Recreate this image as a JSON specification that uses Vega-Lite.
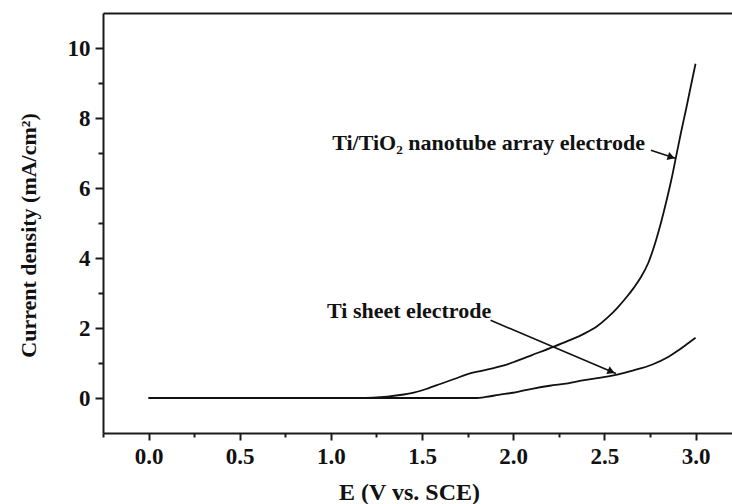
{
  "$schema": "https://vega.github.io/schema/vega-lite/v6.json",
  "width": 629,
  "height": 420,
  "autosize": {"type": "none"},
  "padding": {"left": 103, "top": 13, "right": 0, "bottom": 71},
  "background": "white",
  "config": {
    "view": {"stroke": null},
    "font": "Liberation Serif",
    "axis": {"grid": false, "domainColor": "#1a1a1a", "tickColor": "#1a1a1a", "domainWidth": 2, "tickWidth": 2, "labelFont": "Liberation Serif", "labelFontWeight": "bold", "labelFontSize": 23, "labelColor": "#111", "titleFont": "Liberation Serif", "titleFontWeight": "bold", "titleFontSize": 22, "titleColor": "#111"}
  },
  "datasets": {
    "curves": [
      {"E": 0.0, "J": 0, "s": "Ti/TiO2"},
      {"E": 0.5, "J": 0, "s": "Ti/TiO2"},
      {"E": 1.0, "J": 0, "s": "Ti/TiO2"},
      {"E": 1.15, "J": 0, "s": "Ti/TiO2"},
      {"E": 1.23, "J": 0.01, "s": "Ti/TiO2"},
      {"E": 1.31, "J": 0.04, "s": "Ti/TiO2"},
      {"E": 1.4, "J": 0.1, "s": "Ti/TiO2"},
      {"E": 1.46, "J": 0.16, "s": "Ti/TiO2"},
      {"E": 1.53, "J": 0.27, "s": "Ti/TiO2"},
      {"E": 1.6, "J": 0.4, "s": "Ti/TiO2"},
      {"E": 1.68, "J": 0.55, "s": "Ti/TiO2"},
      {"E": 1.75, "J": 0.68, "s": "Ti/TiO2"},
      {"E": 1.82, "J": 0.77, "s": "Ti/TiO2"},
      {"E": 1.88, "J": 0.84, "s": "Ti/TiO2"},
      {"E": 1.95, "J": 0.93, "s": "Ti/TiO2"},
      {"E": 2.02, "J": 1.06, "s": "Ti/TiO2"},
      {"E": 2.1, "J": 1.22, "s": "Ti/TiO2"},
      {"E": 2.22, "J": 1.46, "s": "Ti/TiO2"},
      {"E": 2.3, "J": 1.63, "s": "Ti/TiO2"},
      {"E": 2.39, "J": 1.84, "s": "Ti/TiO2"},
      {"E": 2.46, "J": 2.05, "s": "Ti/TiO2"},
      {"E": 2.52, "J": 2.31, "s": "Ti/TiO2"},
      {"E": 2.57, "J": 2.57, "s": "Ti/TiO2"},
      {"E": 2.62, "J": 2.87, "s": "Ti/TiO2"},
      {"E": 2.66, "J": 3.14, "s": "Ti/TiO2"},
      {"E": 2.7, "J": 3.45, "s": "Ti/TiO2"},
      {"E": 2.74, "J": 3.85, "s": "Ti/TiO2"},
      {"E": 2.78, "J": 4.45, "s": "Ti/TiO2"},
      {"E": 2.81, "J": 5.0, "s": "Ti/TiO2"},
      {"E": 2.84, "J": 5.62, "s": "Ti/TiO2"},
      {"E": 2.87, "J": 6.3, "s": "Ti/TiO2"},
      {"E": 2.893, "J": 6.89, "s": "Ti/TiO2"},
      {"E": 2.92, "J": 7.58, "s": "Ti/TiO2"},
      {"E": 2.95, "J": 8.3, "s": "Ti/TiO2"},
      {"E": 2.975, "J": 8.93, "s": "Ti/TiO2"},
      {"E": 3.0, "J": 9.55, "s": "Ti/TiO2"},
      {"E": 0.0, "J": 0, "s": "Ti"},
      {"E": 0.5, "J": 0, "s": "Ti"},
      {"E": 1.0, "J": 0, "s": "Ti"},
      {"E": 1.5, "J": 0, "s": "Ti"},
      {"E": 1.8, "J": 0, "s": "Ti"},
      {"E": 1.85, "J": 0.03, "s": "Ti"},
      {"E": 1.92, "J": 0.09, "s": "Ti"},
      {"E": 2.0, "J": 0.15, "s": "Ti"},
      {"E": 2.11, "J": 0.27, "s": "Ti"},
      {"E": 2.2, "J": 0.35, "s": "Ti"},
      {"E": 2.3, "J": 0.42, "s": "Ti"},
      {"E": 2.39, "J": 0.51, "s": "Ti"},
      {"E": 2.48, "J": 0.58, "s": "Ti"},
      {"E": 2.57, "J": 0.67, "s": "Ti"},
      {"E": 2.66, "J": 0.79, "s": "Ti"},
      {"E": 2.76, "J": 0.95, "s": "Ti"},
      {"E": 2.85, "J": 1.17, "s": "Ti"},
      {"E": 2.9, "J": 1.34, "s": "Ti"},
      {"E": 2.95, "J": 1.53, "s": "Ti"},
      {"E": 3.0, "J": 1.72, "s": "Ti"}
    ],
    "arrows": [
      {"E": 2.755, "J": 7.077, "E2": 2.893, "J2": 6.84, "hE": 2.867, "hJ": 6.885, "ang": 18, "label": "Ti/TiO₂ nanotube array electrode", "tE": 1.007, "tJ": 7.077},
      {"E": 1.876, "J": 2.22, "E2": 2.563, "J2": 0.697, "hE": 2.538, "hJ": 0.754, "ang": 23, "label": "Ti sheet electrode", "tE": 0.979, "tJ": 2.277}
    ]
  },
  "resolve": {"axis": {"x": "independent", "y": "independent"}},
  "layer": [
    {
      "data": {"name": "curves"},
      "mark": {"type": "line", "color": "#111", "strokeWidth": 1.8, "interpolate": "monotone"},
      "encoding": {
        "x": {"field": "E", "type": "quantitative", "scale": {"domain": [-0.25, 3.2], "nice": false, "zero": false},
              "axis": {"orient": "bottom", "values": [0, 0.5, 1, 1.5, 2, 2.5, 3], "format": ".1f", "tickSize": 7, "labelPadding": 5, "title": "E (V vs. SCE)", "titleFontSize": 24, "titleX": 306, "titleY": 66, "titleBaseline": "alphabetic", "titleAnchor": "middle"}},
        "y": {"field": "J", "type": "quantitative", "scale": {"domain": [-1, 11], "nice": false, "zero": false},
              "axis": {"orient": "left", "values": [0, 2, 4, 6, 8, 10], "tickSize": 8, "labelPadding": 5, "title": "Current density (mA/cm²)", "titleX": -75, "titleY": 222, "titleAngle": -90, "titleBaseline": "middle", "titleAlign": "center"}},
        "detail": {"field": "s"}
      }
    },
    {
      "data": {"name": "arrows"},
      "mark": {"type": "rule", "color": "#111", "strokeWidth": 1.6},
      "encoding": {
        "x": {"field": "E", "type": "quantitative", "scale": {"domain": [-0.25, 3.2], "nice": false, "zero": false},
              "axis": {"orient": "bottom", "values": [-0.25, 0.25, 0.75, 1.25, 1.75, 2.25, 2.75], "tickSize": 4, "labels": false, "domain": false, "title": null}},
        "y": {"field": "J", "type": "quantitative", "scale": {"domain": [-1, 11], "nice": false, "zero": false},
              "axis": {"orient": "left", "values": [1, 3, 5, 7, 9], "tickSize": 5, "labels": false, "domain": false, "title": null}},
        "x2": {"field": "E2"},
        "y2": {"field": "J2"}
      }
    },
    {
      "data": {"name": "arrows"},
      "mark": {"type": "point", "shape": "triangle-right", "filled": true, "color": "#111", "size": 70, "opacity": 1},
      "encoding": {
        "x": {"field": "hE", "type": "quantitative", "scale": {"domain": [-0.25, 3.2], "nice": false, "zero": false},
              "axis": {"orient": "top", "ticks": false, "labels": false, "domain": true, "title": null}},
        "y": {"field": "hJ", "type": "quantitative", "scale": {"domain": [-1, 11], "nice": false, "zero": false}, "axis": null},
        "angle": {"field": "ang", "type": "quantitative", "scale": null}
      }
    },
    {
      "data": {"name": "arrows"},
      "mark": {"type": "text", "align": "left", "baseline": "alphabetic", "font": "Liberation Serif", "fontWeight": "bold", "fontSize": 22, "color": "#111"},
      "encoding": {
        "x": {"field": "tE", "type": "quantitative", "scale": {"domain": [-0.25, 3.2], "nice": false, "zero": false}, "axis": null},
        "y": {"field": "tJ", "type": "quantitative", "scale": {"domain": [-1, 11], "nice": false, "zero": false}, "axis": null},
        "text": {"field": "label"}
      }
    }
  ]
}
